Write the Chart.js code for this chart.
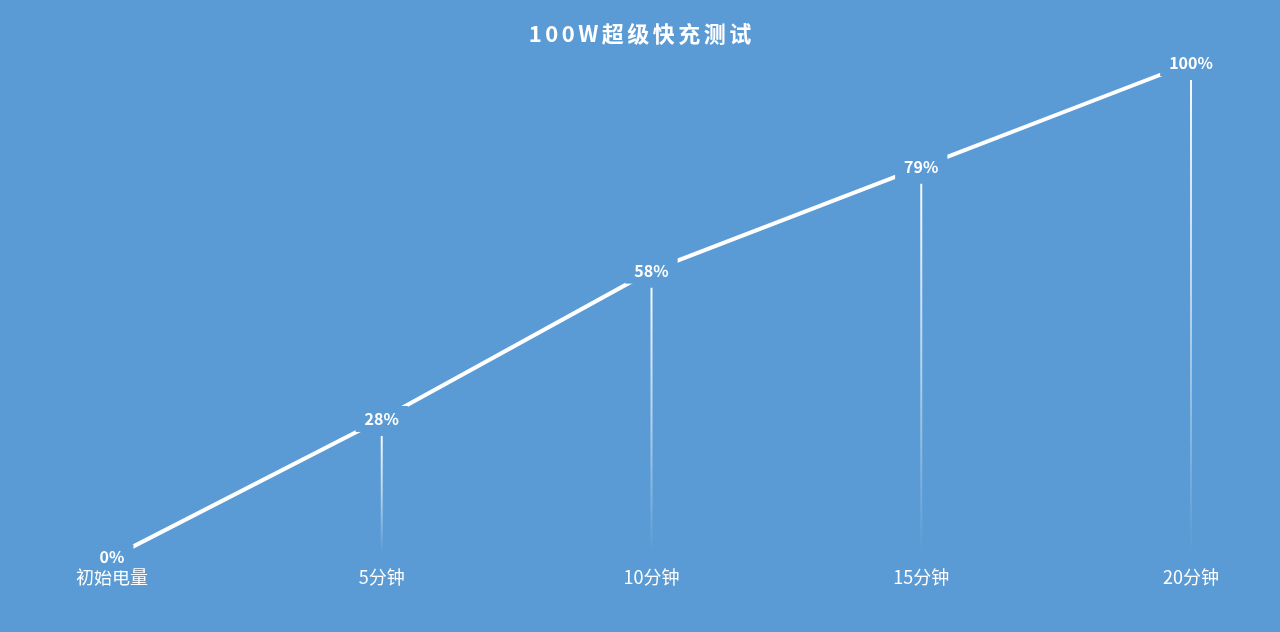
<!DOCTYPE html>
<html>
<head>
<meta charset="utf-8">
<script src="https://cdn.jsdelivr.net/npm/chart.js@4"></script>
<style>
  html, body { margin: 0; padding: 0; background: #5a9bd5; }
  #wrap { width: 1280px; height: 632px; position: relative; }
</style>
</head>
<body>
<div id="wrap"><canvas id="c" width="1280" height="632"></canvas></div>
<script>
const categories = ['初始电量', '5分钟', '10分钟', '15分钟', '20分钟'];
const chargePercent = [0, 28, 58, 79, 100];
const chartTitle = '100W超级快充测试';

const BG = '#5a9bd5';
const CJK = '"Noto Sans CJK SC", "Noto Sans", sans-serif';

const dropAndLabels = {
  id: 'dropAndLabels',
  beforeDatasetsDraw(chart) {
    const ctx = chart.ctx;
    const meta = chart.getDatasetMeta(0);
    const bottom = chart.scales.y.getPixelForValue(0) - 4;
    ctx.save();
    meta.data.forEach((pt, i) => {
      if (i === 0) return;
      const top = pt.y + 17;
      const g = ctx.createLinearGradient(0, top, 0, bottom);
      g.addColorStop(0, 'rgba(255,255,255,0.95)');
      g.addColorStop(0.5, 'rgba(255,255,255,0.55)');
      g.addColorStop(1, 'rgba(255,255,255,0)');
      ctx.strokeStyle = g;
      ctx.lineWidth = 2;
      ctx.beginPath();
      ctx.moveTo(pt.x, top);
      ctx.lineTo(pt.x, bottom);
      ctx.stroke();
    });
    ctx.restore();
  },
  afterDatasetsDraw(chart) {
    const ctx = chart.ctx;
    const meta = chart.getDatasetMeta(0);
    ctx.save();
    ctx.font = 'bold 16px ' + CJK;
    ctx.textAlign = 'center';
    ctx.textBaseline = 'middle';
    meta.data.forEach((pt, i) => {
      const txt = chargePercent[i] + '%';
      const w = ctx.measureText(txt).width;
      ctx.fillStyle = BG;
      ctx.fillRect(pt.x - w / 2 - 9, pt.y - 13, w + 18, 26);
      ctx.fillStyle = '#ffffff';
      ctx.fillText(txt, pt.x, pt.y);
    });
    ctx.restore();
  },
  afterDraw(chart) {
    const ctx = chart.ctx;
    const t = chart.titleBlock;
    ctx.save();
    ctx.font = 'bold 22px ' + CJK;
    ctx.letterSpacing = '3.5px';
    ctx.textAlign = 'center';
    ctx.textBaseline = 'middle';
    ctx.fillStyle = '#ffffff';
    ctx.fillText(chartTitle, (chart.width / 2) + 1.75, t.top + t.options.padding.top + 12);
    ctx.restore();
  }
};

new Chart(document.getElementById('c'), {
  type: 'line',
  data: {
    labels: categories,
    datasets: [{
      data: chargePercent,
      borderColor: '#ffffff',
      borderWidth: 4,
      pointRadius: 0,
      tension: 0,
      fill: false,
      clip: false
    }]
  },
  options: {
    responsive: false,
    animation: false,
    layout: { padding: { left: 112, right: 89, top: 0, bottom: 43 } },
    plugins: {
      legend: { display: false },
      tooltip: { enabled: false },
      title: {
        display: true,
        text: chartTitle,
        color: 'rgba(0,0,0,0)',
        font: { family: CJK, size: 20, weight: 'bold', lineHeight: 1.2 },
        padding: { top: 22, bottom: 17 }
      }
    },
    scales: {
      x: {
        grid: { display: false },
        border: { display: false },
        ticks: {
          color: '#ffffff',
          font: { family: CJK, size: 18, lineHeight: 1.2 },
          padding: 1,
          maxRotation: 0,
          autoSkip: false
        }
      },
      y: {
        display: false,
        min: 0,
        max: 100
      }
    }
  },
  plugins: [dropAndLabels]
});
</script>
</body>
</html>
